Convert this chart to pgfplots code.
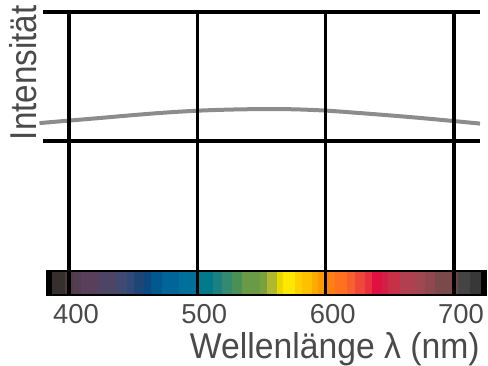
\documentclass[border=0pt]{standalone}
\usepackage{fontspec}
\setmainfont{Liberation Sans}
\newfontfamily\labfont[FakeStretch=0.89]{Liberation Sans}
\newfontfamily\xlabfont[FakeStretch=0.94]{Liberation Sans}
\usepackage{pgfplots}
\pgfplotsset{compat=1.18}
\definecolor{txt}{HTML}{4A4A4A}
\definecolor{curvec}{HTML}{8C8C8C}
\newcommand{\seg}[5]{\addplot[draw={rgb,255:red,#3;green,#4;blue,#5},line width=0.4bp,fill={rgb,255:red,#3;green,#4;blue,#5}] coordinates {(#1,72)(#2,72)(#2,92.5)(#1,92.5)} --cycle;}
\begin{document}
\begin{tikzpicture}
\begin{axis}[
  scale only axis, width=488bp, height=365bp,
  xmin=346.23, xmax=726.5, ymin=0, ymax=365,
  axis line style={draw=none},
  xtick={400,500,600,700}, ytick=\empty,
  major tick length=0pt,
  /pgf/number format/assume math mode=true,
  xticklabel style={font=\fontsize{27.5}{30}\selectfont, text=txt, inner sep=0pt, anchor=base, yshift=42bp, xshift=7bp},
  xlabel={Wellenlänge λ (nm)},
  xlabel style={font=\xlabfont\fontsize{36}{38}\selectfont, text=txt, inner sep=0pt, at={(axis description cs:0.686,0.019)}, anchor=base},
  ylabel={Intensität},
  ylabel style={font=\labfont\fontsize{37.5}{39}\selectfont, text=txt, inner sep=0pt, at={(axis description cs:0.0738,0.801)}, anchor=base},
  clip=false,
]
% spectrum bar frame
\addplot[draw=none, fill=black] coordinates {(382.1,69.5)(725.7,69.5)(725.7,95)(382.1,95)} --cycle;
\seg{386.8}{397}{53}{48}{46}
\seg{397}{403}{74}{59}{69}
\seg{403}{409.4}{83}{61}{80}
\seg{409.4}{423.4}{90}{63}{90}
\seg{423.4}{436.6}{77}{69}{102}
\seg{436.6}{445.2}{63}{74}{112}
\seg{445.2}{450.6}{48}{73}{122}
\seg{450.6}{458.4}{29}{70}{119}
\seg{458.4}{463.9}{11}{74}{128}
\seg{463.9}{472.5}{0}{89}{142}
\seg{472.5}{485.7}{0}{102}{153}
\seg{485.7}{500}{0}{112}{154}
\seg{500}{512.2}{0}{122}{138}
\seg{512.2}{519.2}{26}{128}{128}
\seg{519.2}{527}{52}{138}{112}
\seg{527}{534.8}{74}{144}{85}
\seg{534.8}{548.8}{106}{154}{69}
\seg{548.8}{554.3}{122}{160}{64}
\seg{554.3}{562.1}{176}{184}{48}
\seg{562.1}{566.8}{232}{216}{0}
\seg{566.8}{576.1}{255}{232}{0}
\seg{576.1}{581.6}{255}{208}{0}
\seg{581.6}{589.3}{255}{192}{0}
\seg{589.3}{594}{255}{170}{0}
\seg{594}{600}{255}{153}{0}
\seg{600}{607.3}{255}{128}{16}
\seg{607.3}{616.6}{255}{112}{32}
\seg{616.6}{622.9}{248}{96}{48}
\seg{622.9}{630.6}{240}{72}{56}
\seg{630.6}{636.1}{232}{48}{64}
\seg{636.1}{643.9}{224}{16}{64}
\seg{643.9}{648.6}{208}{32}{72}
\seg{648.6}{657.9}{200}{48}{72}
\seg{657.9}{669.6}{176}{64}{80}
\seg{669.6}{677.4}{160}{72}{80}
\seg{677.4}{685.2}{144}{72}{80}
\seg{685.2}{700}{122}{74}{74}
\seg{700}{703.1}{106}{72}{72}
\seg{703.1}{712.5}{68}{68}{68}
\seg{712.5}{720.3}{56}{56}{56}
% intensity curve
\addplot[curvec, line width=4bp, smooth] coordinates {
  (377,242)(400,244.5)(425,247.2)(450,250)(475,252.5)(500,254.4)(525,255.5)
  (550,256)(575,255.8)(600,254.5)(625,252.2)(650,249.7)(675,247)(700,244)(720.3,241.5)};
% grid lines
\addplot[black, line width=3.2bp] coordinates {(379.7,353)(720.3,353)};
\addplot[black, line width=3.2bp] coordinates {(379.7,224)(720.3,224)};
\addplot[black, line width=3.4bp] coordinates {(400,354.6)(400,71)};
\addplot[black, line width=3.4bp] coordinates {(500,354.6)(500,71)};
\addplot[black, line width=3.4bp] coordinates {(600,354.6)(600,71)};
\addplot[black, line width=3.4bp] coordinates {(700,354.6)(700,71)};
\end{axis}
\end{tikzpicture}
\end{document}
